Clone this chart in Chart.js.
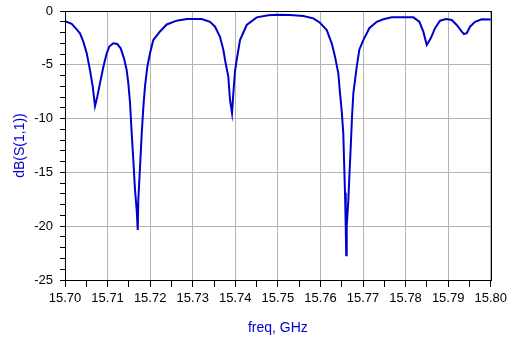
<!DOCTYPE html>
<html>
<head>
<meta charset="utf-8">
<script src="https://cdn.jsdelivr.net/npm/chart.js@4/dist/chart.umd.min.js"></script>
<style>
  html, body { margin: 0; padding: 0; background: #fff; }
  canvas { display: block; }
</style>
</head>
<body>
<canvas id="s11Chart" width="511" height="342"></canvas>
<script>
// freq in GHz
const freq = [
  15.70000, 15.70157, 15.70275, 15.70352, 15.70430, 15.70510, 15.70587, 15.70651, 15.70705, 15.70759,
  15.70822, 15.70900, 15.70980, 15.71041, 15.71135, 15.71229, 15.71308, 15.71386, 15.71449, 15.71487,
  15.71527, 15.71567, 15.71604, 15.71644, 15.71684, 15.71708, 15.71722, 15.71762, 15.71802, 15.71839,
  15.71879, 15.71933, 15.71997, 15.72074, 15.72232, 15.72389, 15.72624, 15.72859, 15.73211, 15.73406,
  15.73524, 15.73641, 15.73719, 15.73759, 15.73836, 15.73876, 15.73923, 15.73954, 15.73993, 15.74033,
  15.74111, 15.74268, 15.74503, 15.74776, 15.74973, 15.75286, 15.75598, 15.75833, 15.75990, 15.76148,
  15.76265, 15.76343, 15.76420, 15.76460, 15.76500, 15.76537, 15.76554, 15.76577, 15.76594, 15.76606,
  15.76617, 15.76655, 15.76679, 15.76712, 15.76742, 15.76773, 15.76852, 15.76913, 15.77007, 15.77148,
  15.77322, 15.77477, 15.77675, 15.78182, 15.78323, 15.78417, 15.78497, 15.78591, 15.78692, 15.78809,
  15.78950, 15.79084, 15.79201, 15.79319, 15.79373, 15.79436, 15.79514, 15.79631, 15.79789, 15.80000,
];

// dB(S(1,1))
const s11 = [
  -0.95, -1.2, -1.7, -2.07, -2.85, -3.93, -5.5, -7.0, -8.83, -7.96,
  -6.7, -5.2, -3.93, -3.3, -3.0, -3.07, -3.47, -4.4, -5.5, -6.7,
  -8.5, -11.4, -13.8, -16.6, -18.5, -20.35, -17.6, -14.5, -11.4, -9.0,
  -7.0, -5.2, -3.93, -2.7, -1.9, -1.25, -0.9, -0.74, -0.74, -1.0,
  -1.46, -2.4, -3.6, -4.55, -6.1, -8.27, -9.5, -7.65, -5.6, -4.55,
  -2.7, -1.3, -0.59, -0.4, -0.34, -0.37, -0.46, -0.68, -1.09, -1.77,
  -3.0, -4.25, -5.8, -7.65, -9.3, -11.4, -13.8, -16.9, -20.0, -22.7,
  -20.0, -17.6, -15.4, -12.6, -9.8, -7.65, -5.2, -3.6, -2.7, -1.6,
  -1.0, -0.77, -0.59, -0.59, -1.0, -1.92, -3.16, -2.54, -1.6, -0.9,
  -0.74, -0.84, -1.3, -1.92, -2.14, -2.07, -1.46, -1.0, -0.77, -0.8,
];

const xMin = 15.70, xMax = 15.80, xStep = 0.005;
const yMin = -25, yMax = 0, yStep = 1;

const gridGray = "#b4b4b4";
const traceBlue = "#0000cc";
const tickFont = { family: "'Liberation Sans', Arial, sans-serif", size: 13 };
const titleFont = { family: "'Liberation Sans', Arial, sans-serif", size: 14 };

const isMajorX = (v) => Math.round(v * 1000) % 10 === 0;
const isMajorY = (v) => Math.round(v) % 5 === 0;

// black frame round the plot area
const framePlugin = {
  id: "frame",
  afterDraw(chart) {
    const { ctx, chartArea: a } = chart;
    ctx.save();
    ctx.strokeStyle = "#000";
    ctx.lineWidth = 1;
    ctx.strokeRect(Math.round(a.left) + 0.5, Math.round(a.top) + 0.5,
      Math.round(a.right - a.left), Math.round(a.bottom - a.top));
    ctx.restore();
  },
};

new Chart(document.getElementById("s11Chart").getContext("2d"), {
  type: "line",
  data: {
    datasets: [{
      data: freq.map((f, i) => ({ x: f, y: s11[i] })),
      borderColor: traceBlue,
      borderWidth: 2,
      pointRadius: 0,
      tension: 0,
      fill: false,
    }],
  },
  options: {
    responsive: false,
    animation: false,
    layout: { padding: { left: 0, top: 11, right: 20, bottom: 0 } },
    plugins: { legend: { display: false }, tooltip: { enabled: false } },
    scales: {
      x: {
        type: "linear",
        min: xMin,
        max: xMax,
        afterFit: (scale) => { scale.height = 62; },
        ticks: {
          stepSize: xStep,
          maxTicksLimit: 100,
          autoSkip: false,
          maxRotation: 0,
          color: "#000",
          font: tickFont,
          padding: 4,
          callback: (v) => (isMajorX(v) ? v.toFixed(2) : ""),
        },
        grid: {
          color: (ctx) => (isMajorX(ctx.tick.value) ? gridGray : "transparent"),
          tickColor: "#000",
          tickLength: 7,
        },
        border: { color: "#000" },
        title: {
          display: true,
          text: "freq, GHz",
          color: traceBlue,
          font: titleFont,
          padding: { top: 0, bottom: 5 },
        },
      },
      y: {
        min: yMin,
        max: yMax,
        afterFit: (scale) => {
          scale.width = 65;
          // let the layout padding alone fix the plot top
          scale.paddingTop = 0;
          scale.paddingBottom = 0;
        },
        ticks: {
          stepSize: yStep,
          maxTicksLimit: 100,
          autoSkip: false,
          color: "#000",
          font: tickFont,
          padding: 7,
          callback: (v) => (isMajorY(v) ? String(Math.round(v)) : ""),
        },
        grid: {
          color: (ctx) => (isMajorY(ctx.tick.value) ? gridGray : "transparent"),
          tickColor: "#000",
          tickLength: 5,
        },
        border: { color: "#000" },
        title: {
          display: true,
          text: "dB(S(1,1))",
          color: traceBlue,
          font: titleFont,
          padding: { top: 12, bottom: 0 },
        },
      },
    },
  },
  plugins: [framePlugin],
});
</script>
</body>
</html>
